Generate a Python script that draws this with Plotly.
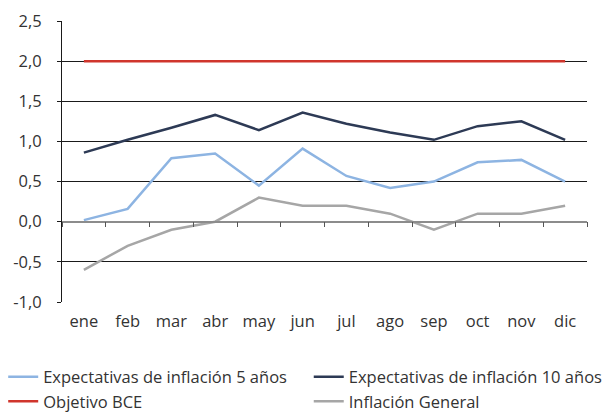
import plotly.graph_objects as go

meses = ["ene", "feb", "mar", "abr", "may", "jun", "jul", "ago", "sep", "oct", "nov", "dic"]
exp_5 = [0.02, 0.16, 0.79, 0.85, 0.45, 0.91, 0.57, 0.42, 0.50, 0.74, 0.77, 0.50]
exp_10 = [0.86, 1.02, 1.17, 1.33, 1.14, 1.36, 1.22, 1.11, 1.02, 1.19, 1.25, 1.02]
objetivo = [2.0] * 12
inflacion = [-0.6, -0.3, -0.1, 0.0, 0.3, 0.2, 0.2, 0.1, -0.1, 0.1, 0.1, 0.2]
y_ticks = [-1.0, -0.5, 0.0, 0.5, 1.0, 1.5, 2.0, 2.5]
y_tick_labels = ["-1,0", "-0,5", "0,0", "0,5", "1,0", "1,5", "2,0", "2,5"]

FONT = "Open Sans, Roboto, Arial, sans-serif"
FS = 16.5

fig = go.Figure()
series = [
    ("Expectativas de inflación 5 años", exp_5, "#8DB4E2", "legend"),
    ("Expectativas de inflación 10 años", exp_10, "#2D3A55", "legend2"),
    ("Objetivo BCE", objetivo, "#D0352C", "legend"),
    ("Inflación General", inflacion, "#A6A6A6", "legend2"),
]
for name, vals, col, leg in series:
    fig.add_trace(go.Scatter(x=meses, y=vals, name=name, mode="lines",
                             line=dict(color=col, width=2.5), legend=leg))

leg_common = dict(orientation="v", yanchor="top", y=-0.205, xanchor="left",
                  font=dict(family=FONT, size=FS, color="#333333"), itemwidth=30,
                  bgcolor="rgba(0,0,0,0)", borderwidth=0, tracegroupgap=0)

fig.update_layout(
    width=602, height=404,
    margin=dict(l=54, r=23, t=13, b=110, autoexpand=False),
    paper_bgcolor="white", plot_bgcolor="white",
    font=dict(family=FONT, size=FS, color="#333333"),
    showlegend=True,
    legend=dict(x=-0.112, **leg_common),
    legend2=dict(x=0.470, **leg_common),
    xaxis=dict(type="category", categoryorder="array", categoryarray=meses,
               showgrid=False, showline=False, ticks="", range=[-0.5, 11.5],
               ticklabelstandoff=7, tickfont=dict(size=FS)),
    xaxis2=dict(type="category", matches="x", overlaying="x", anchor="free",
                position=1 / 3.5, showline=True, linecolor="#8C8C8C", linewidth=1.5,
                ticks="outside", tickson="boundaries", ticklen=5, tickcolor="#555555",
                showticklabels=False, showgrid=False),
    yaxis=dict(range=[-1.0, 2.5], tickvals=y_ticks, ticktext=y_tick_labels,
               showgrid=True, gridcolor="#1a1a1a", gridwidth=1,
               zeroline=False, showline=True, linecolor="#1a1a1a", linewidth=1,
               ticks="outside", ticklen=4, tickcolor="#1a1a1a",
               ticklabelstandoff=12, tickfont=dict(size=FS)),
)

# second axis for the zero line with category ticks
fig.add_trace(go.Scatter(x=meses, y=[None] * 12, xaxis="x2", showlegend=False,
                         hoverinfo="skip", mode="lines"))

fig.write_html("out.html")
